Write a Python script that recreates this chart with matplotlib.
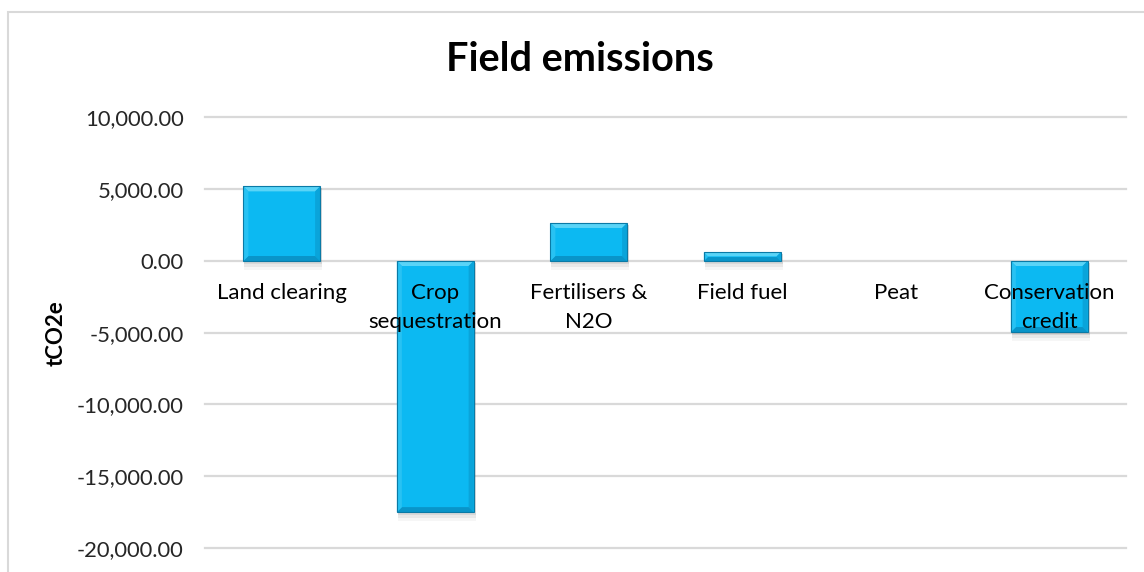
import matplotlib
matplotlib.use("Agg")
import matplotlib.pyplot as plt
from matplotlib.patches import Polygon, Rectangle
from matplotlib.ticker import FuncFormatter
import numpy as np

categories = ["Land clearing", "Crop\nsequestration", "Fertilisers &\nN2O",
              "Field fuel", "Peat", "Conservation\ncredit"]
values = [5200, -17500, 2650, 600, 0, -4950]
yticks = [-20000, -15000, -10000, -5000, 0, 5000, 10000]

FONT = ["Lato", "DejaVu Sans"]
plt.rcParams["font.family"] = FONT

W, H = 1144, 572
fig = plt.figure(figsize=(W / 100, H / 100), dpi=100)
fig.patch.set_facecolor("white")

# chart border
fig.patches.append(Rectangle((8 / W, -0.2), 1.2, 1.2 - 12 / H,
                             transform=fig.transFigure, fill=False,
                             edgecolor="#D9D9D9", lw=1.5, zorder=0))

ax = fig.add_axes([205 / W, 1 - 548 / H, 921 / W, 430.5 / H])
ax.set_xlim(-0.5, len(categories) - 0.5)
ax.set_ylim(yticks[0], yticks[-1])
ax.set_yticks(yticks)
ax.yaxis.set_major_formatter(FuncFormatter(lambda v, p: f"{v:,.2f}"))
ax.set_xticks([])
for s in ax.spines.values():
    s.set_visible(False)
ax.tick_params(axis="y", length=0, pad=15.5, labelsize=15.8, labelcolor="#262626")
ax.grid(axis="y", color="#D9D9D9", lw=1.6)
for gl in ax.get_ygridlines():
    gl.set_clip_on(False)
ax.set_axisbelow(True)
ax.set_ylabel("tCO2e", fontsize=16, fontweight="bold", color="#000000")
ax.yaxis.set_label_coords(-0.1498, 0.5)

x = np.arange(len(categories))
bw = 0.5
bars = ax.bar(x, values, width=bw, color="#0CB9F2", edgecolor="none",
              lw=0, zorder=3)

fig.canvas.draw()
inv = ax.transData.inverted()
b = 5.0
for rect, v in zip(bars, values):
    if v == 0:
        continue
    x0 = rect.get_x(); x1 = x0 + rect.get_width()
    y0 = min(0, v); y1 = max(0, v)
    (px0, py0) = ax.transData.transform((x0, y0))
    (px1, py1) = ax.transData.transform((x1, y1))
    # shadow
    for k, a in [(3, 0.10), (6, 0.08), (9, 0.05)]:
        pts = inv.transform([(px0 + 1, py0 - k), (px1 + 2, py0 - k),
                             (px1 + 2, py1 - 2), (px0 + 1, py1 - 2)])
        ax.add_patch(Polygon(pts, closed=True, facecolor="#505050",
                             edgecolor="none", alpha=a, zorder=2))
    bb = min(b, (py1 - py0) / 2.2)
    outer = [(px0, py1), (px1, py1), (px1, py0), (px0, py0)]
    inner = [(px0 + bb, py1 - bb), (px1 - bb, py1 - bb),
             (px1 - bb, py0 + bb), (px0 + bb, py0 + bb)]
    cols = ["#5AD4F7", "#0AA4DA", "#0995C9", "#28C2F3"]  # top, right, bottom, left
    for i in range(4):
        j = (i + 1) % 4
        poly = [outer[i], outer[j], inner[j], inner[i]]
        ax.add_patch(Polygon(inv.transform(poly), closed=True,
                             facecolor=cols[i], edgecolor="none", zorder=4))
    ax.add_patch(Polygon(inv.transform(outer), closed=True, fill=False,
                         edgecolor="#0A7AA6", lw=0.8, zorder=4.5))

for xi, lab in zip(x, categories):
    ax.annotate(lab, xy=(xi, 0), xytext=(0, -22), textcoords="offset pixels",
                ha="center", va="top", ma="center", fontsize=16,
                color="#000000", linespacing=1.55, zorder=6)

fig.text(580 / W, 1 - 71 / H, "Field emissions", ha="center", va="baseline",
         fontsize=28.5, fontweight="bold", color="#000000")

fig.savefig("out.png", dpi=100)
